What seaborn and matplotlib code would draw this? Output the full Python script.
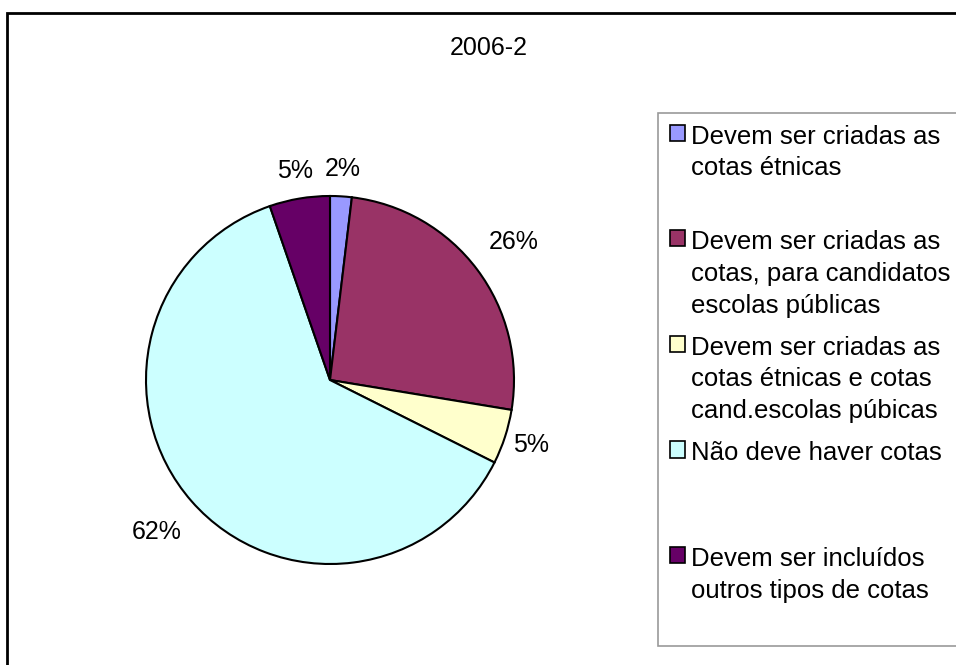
import numpy as np
import matplotlib.pyplot as plt
import seaborn as sns
from matplotlib.patches import Rectangle, Patch

categories = [
    "Devem ser criadas as\ncotas étnicas",
    "Devem ser criadas as\ncotas, para candidatos\nescolas públicas",
    "Devem ser criadas as\ncotas étnicas e cotas\ncand.escolas púbicas",
    "Não deve haver cotas",
    "Devem ser incluídos\noutros tipos de cotas",
]
shares = [1.9, 25.7, 4.8, 62.3, 5.3]
colors = ["#9999FF", "#993366", "#FFFFCC", "#CCFFFF", "#660066"]
title = "2006-2"

sns.set_theme(style="white")
plt.rcParams["font.family"] = ["Liberation Sans", "DejaVu Sans"]
fs = 18
leg_fs = 18.5

fig = plt.figure(figsize=(9.56, 6.65), dpi=100)
W, H = 956, 665
cx, cy, R = 330, 380, 184
k = 1.35
side = 2 * R * k
ax = fig.add_axes([(cx - side / 2) / W, (H - cy - side / 2) / H, side / W, side / H])

wedges, texts, autotexts = ax.pie(
    shares, colors=colors, startangle=90, counterclock=False,
    autopct="%.0f%%", pctdistance=1.15,
    wedgeprops=dict(edgecolor="black", linewidth=1.5),
    textprops=dict(fontsize=fs, color="black"),
)
# push wider labels a little further out, like Excel does
for w, t in zip(wedges, autotexts):
    ang = np.deg2rad((w.theta1 + w.theta2) / 2)
    d = 0.95 + 0.1 * len(t.get_text())
    t.set_position((d * np.cos(ang), d * np.sin(ang)))
ax.set_xlim(-k, k)
ax.set_ylim(-k, k)
ax.set_aspect("equal")
ax.axis("off")

# legend, every entry padded to three lines like Excel spacing
labels = []
for c in categories:
    n = c.count("\n") + 1
    labels.append(c + "\n" * (3 - n))
handles = [Patch(facecolor=col, edgecolor="black", linewidth=1.2) for col in colors]
leg = fig.legend(handles, labels, loc="upper left", bbox_to_anchor=(658 / W, 1 - 113 / H),
                 fontsize=leg_fs, frameon=True, fancybox=False, borderpad=0.45,
                 labelspacing=0.7, handlelength=0.6, handleheight=0.6,
                 handletextpad=0.22, borderaxespad=0, labelcolor="black")
leg.get_frame().set_edgecolor("#808080")
leg.get_frame().set_linewidth(1.2)
for t in leg.get_texts():
    t.set_linespacing(1.41)
for col in leg._legend_handle_box.get_children():
    for row in col.get_children():
        row.align = "top"

fig.text(489 / W, 1 - 48 / H, title, ha="center", va="center", fontsize=fs, color="black")

fig.add_artist(Rectangle((7 / W, -0.1), 1.2, 1.1 - 13 / H, transform=fig.transFigure,
                         fill=False, edgecolor="black", linewidth=2))

fig.savefig("out.png", dpi=100)
